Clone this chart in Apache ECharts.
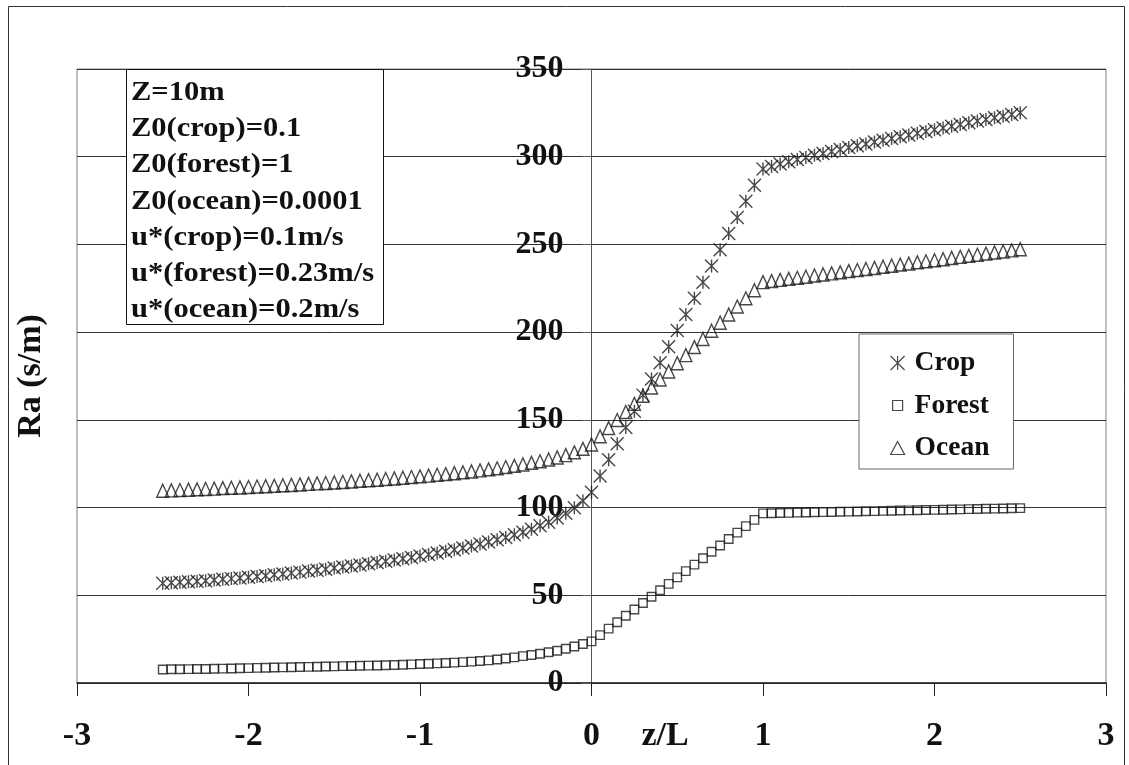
<!DOCTYPE html>
<html>
<head>
<meta charset="utf-8">
<title>Ra vs z/L</title>
<script src="https://cdn.jsdelivr.net/npm/echarts@6/dist/echarts.min.js"></script>
<style>
  html, body { margin: 0; padding: 0; background: #ffffff; }
  #chart { width: 1129px; height: 765px; }
</style>
</head>
<body>
<div id="chart"></div>
<script>
// Stability parameter z/L
const zeta = [
  -2.5, -2.45, -2.4, -2.35, -2.3, -2.25, -2.2, -2.15, -2.1, -2.05,
  -2.0, -1.95, -1.9, -1.85, -1.8, -1.75, -1.7, -1.65, -1.6, -1.55,
  -1.5, -1.45, -1.4, -1.35, -1.3, -1.25, -1.2, -1.15, -1.1, -1.05,
  -1.0, -0.95, -0.9, -0.85, -0.8, -0.75, -0.7, -0.65, -0.6, -0.55,
  -0.5, -0.45, -0.4, -0.35, -0.3, -0.25, -0.2, -0.15, -0.1, -0.05,
  0.0,
  0.05, 0.1, 0.15, 0.2, 0.25, 0.3, 0.35, 0.4, 0.45, 0.5,
  0.55, 0.6, 0.65, 0.7, 0.75, 0.8, 0.85, 0.9, 0.95, 1.0,
  1.05, 1.1, 1.15, 1.2, 1.25, 1.3, 1.35, 1.4, 1.45, 1.5,
  1.55, 1.6, 1.65, 1.7, 1.75, 1.8, 1.85, 1.9, 1.95, 2.0,
  2.05, 2.1, 2.15, 2.2, 2.25, 2.3, 2.35, 2.4, 2.45, 2.5
];

// Aerodynamic resistance Ra (s/m)
const crop = [
  56.8, 57.1, 57.4, 57.7, 58.0, 58.3, 58.7, 59.1, 59.5, 59.9,
  60.3, 60.7, 61.2, 61.7, 62.2, 62.7, 63.2, 63.8, 64.3, 64.9,
  65.5, 66.1, 66.7, 67.3, 68.0, 68.7, 69.4, 70.1, 70.8, 71.6,
  72.4, 73.3, 74.1, 75.1, 76.0, 77.0, 78.1, 79.2, 80.4, 81.7,
  83.0, 84.5, 86.0, 87.7, 89.6, 91.7, 94.0, 96.7, 99.9, 103.7,
  108.8,
  118.0, 127.2, 136.4, 145.6, 154.9, 164.1, 173.3, 182.5, 191.7, 200.9,
  210.1, 219.3, 228.5, 237.7, 246.9, 256.2, 265.4, 274.6, 283.8, 293.0,
  294.4, 295.8, 297.1, 298.4, 299.6, 300.8, 301.9, 303.0, 304.1, 305.2,
  306.3, 307.3, 308.4, 309.4, 310.4, 311.4, 312.4, 313.4, 314.4, 315.4,
  316.4, 317.4, 318.3, 319.3, 320.3, 321.2, 322.2, 323.1, 324.1, 325.0
];

const forest = [
  7.7, 7.8, 7.8, 7.9, 8.0, 8.0, 8.1, 8.2, 8.3, 8.4,
  8.5, 8.6, 8.7, 8.8, 8.9, 9.0, 9.1, 9.2, 9.3, 9.4,
  9.5, 9.6, 9.7, 9.8, 9.9, 10.0, 10.1, 10.3, 10.4, 10.6,
  10.8, 11.0, 11.2, 11.4, 11.6, 11.9, 12.2, 12.5, 12.9, 13.4,
  14.0, 14.6, 15.3, 16.0, 16.7, 17.5, 18.4, 19.5, 20.8, 22.2,
  23.7,
  27.3, 31.0, 34.6, 38.3, 41.9, 45.6, 49.2, 52.9, 56.5, 60.2,
  63.8, 67.5, 71.1, 74.8, 78.4, 82.1, 85.7, 89.4, 93.0, 96.7,
  96.8, 96.9, 97.0, 97.1, 97.2, 97.3, 97.4, 97.5, 97.6, 97.7,
  97.8, 97.9, 98.0, 98.1, 98.2, 98.3, 98.4, 98.5, 98.6, 98.7,
  98.8, 98.9, 99.0, 99.1, 99.2, 99.3, 99.4, 99.5, 99.6, 99.7
];

const ocean = [
  109.6, 109.8, 110.0, 110.2, 110.4, 110.6, 110.8, 111.1, 111.3, 111.5,
  111.7, 112.0, 112.2, 112.4, 112.7, 112.9, 113.2, 113.5, 113.8, 114.0,
  114.3, 114.6, 114.9, 115.3, 115.6, 115.9, 116.3, 116.6, 117.0, 117.4,
  117.8, 118.2, 118.7, 119.1, 119.6, 120.1, 120.6, 121.2, 121.8, 122.4,
  123.1, 123.8, 124.6, 125.5, 126.4, 127.4, 128.6, 129.9, 131.5, 133.5,
  136.0,
  140.6, 145.3, 149.9, 154.5, 159.1, 163.8, 168.4, 173.0, 177.6, 182.3,
  186.9, 191.5, 196.1, 200.8, 205.4, 210.0, 214.6, 219.3, 223.9, 228.5,
  229.1, 229.8, 230.4, 231.0, 231.6, 232.3, 232.9, 233.5, 234.1, 234.8,
  235.4, 236.0, 236.6, 237.3, 237.9, 238.5, 239.1, 239.8, 240.4, 241.0,
  241.6, 242.3, 242.9, 243.5, 244.1, 244.8, 245.4, 246.0, 246.6, 247.3
];

const seriesNames = ['Crop', 'Forest', 'Ocean'];

// Parameters listed in the note box
const infoLines = [
  'Z=10m',
  'Z0(crop)=0.1',
  'Z0(forest)=1',
  'Z0(ocean)=0.0001',
  'u*(crop)=0.1m/s',
  'u*(forest)=0.23m/s',
  'u*(ocean)=0.2m/s'
];

const FONT = '"Liberation Serif", "Times New Roman", serif';
const INK = '#111111';
const MARK = '#1a1a1a';

// Plot area edges (px) and the pixel column of z/L = 0 where the value axis sits
const GRID = { left: 77, right: 23, top: 69, bottom: 82 };
const Y_AXIS_SHIFT = 77 - 591.5;

// Marker shapes; the legend versions carry a 24x14 frame (leading moveTo points)
// so each glyph keeps its own size inside the legend slot
const ASTERISK = 'path://M0,0L10,10M10,0L0,10M5,0L5,10';
const LEGEND_ICONS = {
  Crop: 'path://M0,0M24,14M5,0L19,14M19,0L5,14M12,0L12,14',
  Forest: 'path://M0,0M24,14M7,2L17,2L17,12L7,12Z',
  Ocean: 'path://M0,0M24,14M12,0.5L19,13.5L5,13.5Z'
};

function pairs(values) {
  return zeta.map((z, i) => [z, values[i]]);
}

const markerStyle = { color: 'rgba(0,0,0,0)', borderColor: MARK, borderWidth: 1.4 };

const chart = echarts.init(document.getElementById('chart'), null, { renderer: 'canvas' });

chart.setOption({
  animation: false,
  backgroundColor: '#ffffff',
  grid: {
    left: GRID.left, right: GRID.right, top: GRID.top, bottom: GRID.bottom,
    containLabel: false, outerBoundsMode: 'none',
    show: true, borderColor: '#808080', borderWidth: 1,
    backgroundColor: 'rgba(0,0,0,0)'
  },
  xAxis: {
    type: 'value', min: -3, max: 3, interval: 1,
    axisLine: { onZero: true, lineStyle: { color: '#222', width: 1.5 } },
    axisTick: { inside: false, length: 13, lineStyle: { color: '#222', width: 1 } },
    axisLabel: { margin: 36, fontFamily: FONT, fontWeight: 'bold', fontSize: 34, color: INK },
    splitLine: { show: false },
    name: 'z/L', nameLocation: 'middle', nameGap: 36, nameMoveOverlap: false,
    nameTextStyle: { fontFamily: FONT, fontWeight: 'bold', fontSize: 34, color: INK, padding: [0, 0, 0, 147] }
  },
  yAxis: {
    type: 'value', min: 0, max: 350, interval: 50,
    offset: Y_AXIS_SHIFT,
    axisLine: { onZero: false, lineStyle: { color: '#555', width: 1 } },
    axisTick: { inside: false, length: 10, lineStyle: { color: '#555', width: 1 } },
    axisLabel: { margin: 28, fontFamily: FONT, fontWeight: 'bold', fontSize: 32, color: INK },
    splitLine: { show: true, lineStyle: { color: '#333', width: 1 } },
    name: 'Ra (s/m)', nameLocation: 'middle', nameGap: 543, nameMoveOverlap: false,
    nameTextStyle: { fontFamily: FONT, fontWeight: 'bold', fontSize: 34, color: INK }
  },
  legend: {
    data: seriesNames.map(name => ({ name: name, icon: LEGEND_ICONS[name] })),
    orient: 'vertical',
    left: 859, top: 334,
    padding: [15, 24, 7, 26],
    itemGap: 14.5, itemWidth: 24, itemHeight: 14,
    backgroundColor: '#ffffff', borderColor: '#666', borderWidth: 1,
    itemStyle: { borderWidth: 1.2 },
    textStyle: { fontFamily: FONT, fontWeight: 'bold', fontSize: 27.5, color: INK }
  },
  graphic: [
    {
      type: 'rect', z: 1, silent: true,
      shape: { x: 8.5, y: 6.5, width: 1116, height: 900 },
      style: { fill: 'none', stroke: '#333', lineWidth: 1 }
    },
    {
      type: 'group', left: 126, top: 69, z: 10, silent: true,
      children: [
        {
          type: 'rect', z: 10,
          shape: { x: 0.5, y: 0.5, width: 257, height: 255 },
          style: { fill: '#ffffff', stroke: '#111', lineWidth: 1 }
        },
        {
          type: 'text', z: 11, x: 5, y: 6, scaleX: 1.13,
          style: {
            text: infoLines.join('\n'),
            fontFamily: FONT, fontWeight: 'bold', fontSize: 27,
            lineHeight: 36.2, fill: INK
          }
        }
      ]
    }
  ],
  series: [
    {
      name: 'Crop', type: 'scatter', data: pairs(crop),
      symbol: ASTERISK, symbolSize: 13,
      itemStyle: markerStyle, emphasis: { disabled: true }
    },
    {
      name: 'Forest', type: 'scatter', data: pairs(forest),
      symbol: 'rect', symbolSize: 8.5,
      itemStyle: markerStyle, emphasis: { disabled: true }
    },
    {
      name: 'Ocean', type: 'scatter', data: pairs(ocean),
      symbol: 'triangle', symbolSize: [12, 13],
      itemStyle: markerStyle, emphasis: { disabled: true }
    }
  ]
});
</script>
</body>
</html>
